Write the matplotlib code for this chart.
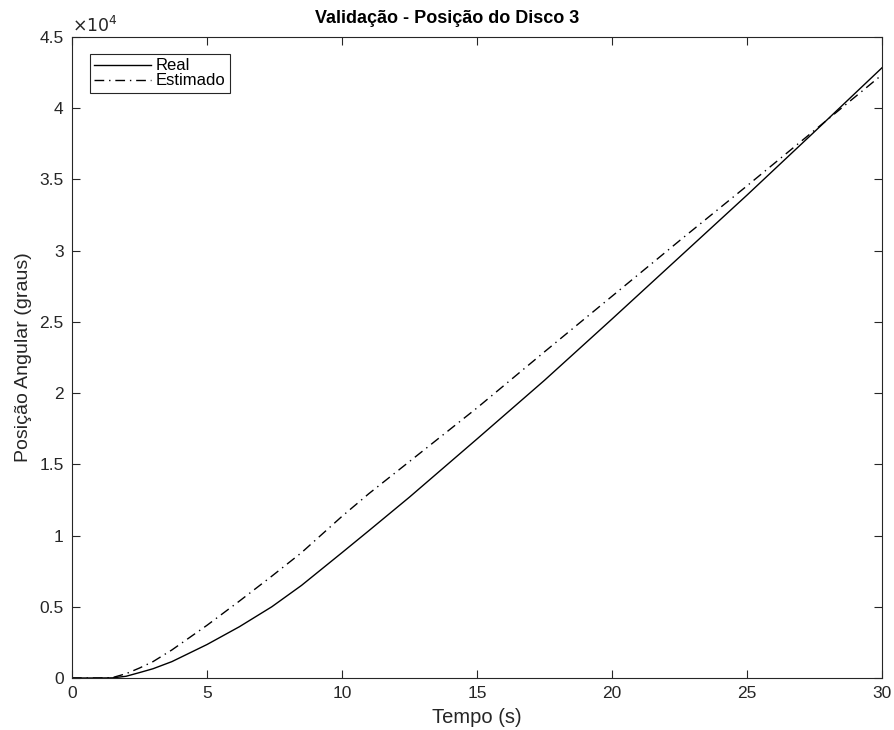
import matplotlib.pyplot as plt
from matplotlib.ticker import FuncFormatter, MultipleLocator

plt.rcParams['font.family'] = ['Liberation Sans', 'DejaVu Sans']

# tempo (s)
tempo = [0, 1.0, 1.5, 2.0, 2.5, 3.0, 3.7, 5.0, 6.2, 7.4, 8.5, 10.0, 11.0,
         12.5, 15.0, 17.5, 20.0, 22.5, 25.0, 27.5, 30.0]
# posicao angular (graus)
real = [0, 0, 10, 120, 380, 650, 1150, 2350, 3600, 5000, 6500, 8800, 10350,
        12700, 16780, 20900, 25200, 29550, 33900, 38350, 42840]
estimado = [0, 0, 30, 300, 700, 1150, 1970, 3700, 5400, 7150, 8800, 11350, 12950,
            15200, 18960, 22900, 26800, 30700, 34550, 38450, 42350]

cinza = '#262626'

fig = plt.figure(figsize=(8.95, 7.3), dpi=100)
ax = fig.add_axes([72/895, 52/730, 810/895, 641/730])

ax.plot(tempo, real, color='black', linewidth=1.0, label='Real')
ax.plot(tempo, estimado, color='black', linewidth=1.0, dashes=(7, 3.5, 1, 3.5), label='Estimado')

ax.set_xlim(0, 30)
ax.set_ylim(0, 45000)
ax.xaxis.set_major_locator(MultipleLocator(5))
ax.yaxis.set_major_locator(MultipleLocator(5000))
ax.yaxis.set_major_formatter(FuncFormatter(lambda v, p: '%g' % (v / 1e4)))

ax.tick_params(direction='in', length=6, width=0.8, top=True, right=True,
               labelsize=12.5, colors=cinza, pad=6)
for s in ax.spines.values():
    s.set_color(cinza)
    s.set_linewidth(0.8)

ax.text(0.0, 1.003, r'$\times10^{4}$', transform=ax.transAxes, fontsize=12.5,
        color=cinza, ha='left', va='bottom')

ax.set_xlabel('Tempo (s)', fontsize=14.5, color=cinza, labelpad=5)
ax.set_ylabel('Posição Angular (graus)', fontsize=14, color=cinza, labelpad=5)
ax.set_title('Validação - Posição do Disco 3', fontsize=13, fontweight='bold',
             pad=10, x=0.4636)

leg = ax.legend(loc='upper left', bbox_to_anchor=(0.022, 0.973), fontsize=12,
                fancybox=False, framealpha=1, borderaxespad=0, handlelength=3.4,
                labelspacing=0.0, handletextpad=0.3, borderpad=0.25)
leg.get_frame().set_edgecolor(cinza)
leg.get_frame().set_linewidth(0.8)

fig.savefig('out.png', dpi=100)
